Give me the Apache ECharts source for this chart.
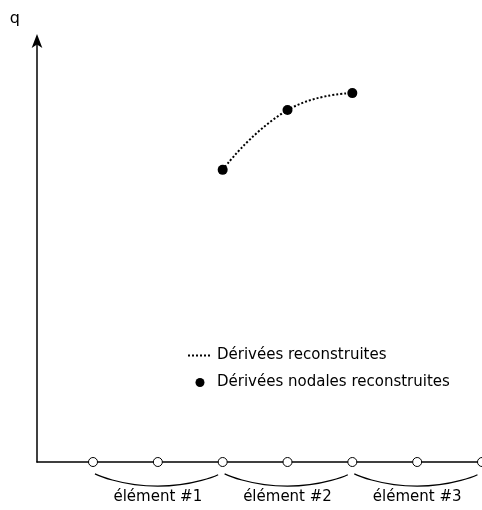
<!DOCTYPE html>
<html><head><meta charset="utf-8">
<script src="https://cdn.jsdelivr.net/npm/echarts@6/dist/echarts.min.js"></script>
<style>html,body{margin:0;padding:0;background:#fff}#c{width:482px;height:510px}</style>
</head><body><div id="c"></div>
<script>
// nodes along the x axis (open circles)
var nodeX = [0, 1, 2, 3, 4, 5, 6];
// reconstructed nodal derivatives
var nodalX = [2, 3, 4];
var nodalQ = [6.89, 8.30, 8.70];
// elements: [startNode, endNode, label]
var elemStart = [0, 2, 4];
var elemEnd = [2, 4, 6];
var elemLabels = ['élément #1', 'élément #2', 'élément #3'];
var legendNames = ['Dérivées reconstruites', 'Dérivées nodales reconstruites'];

var FONT = 'DejaVu Sans';
var FS = 15;
var series = [];
series.push({
  name: legendNames[0], type: 'line', smooth: 0.5, symbol: 'none',
  data: nodalX.map(function (x, i) { return [x, nodalQ[i]]; }),
  itemStyle: { color: '#000' },
  lineStyle: { color: '#000', width: 2, type: [2, 2] }, z: 3
});
series.push({
  name: legendNames[1], type: 'scatter', symbolSize: 10,
  data: nodalX.map(function (x, i) { return [x, nodalQ[i]]; }),
  itemStyle: { color: '#000', opacity: 1 }, z: 4
});
series.push({
  name: 'nodes', type: 'scatter', symbolSize: 9, clip: false,
  data: nodeX.map(function (x) { return [x, 0]; }),
  itemStyle: { color: '#fff', borderColor: '#000', borderWidth: 1, opacity: 1 }, z: 5
});
elemStart.forEach(function (s, i) {
  var e = elemEnd[i], m = (s + e) / 2;
  series.push({
    name: 'brace' + i, type: 'line', smooth: 0.6, symbol: 'none', clip: false,
    silent: true,
    data: [[s + 0.03, -0.28], [m, -0.57], [e - 0.07, -0.30]],
    lineStyle: { color: '#000', width: 1.2 }
  });
});
series.push({
  name: 'elemLabels', type: 'scatter', clip: false, silent: true,
  symbolSize: 1, itemStyle: { color: 'rgba(0,0,0,0)' },
  data: elemStart.map(function (s, i) { return [(s + elemEnd[i]) / 2, -0.57]; }),
  label: { show: true, position: 'bottom', distance: 3, color: '#000', opacity: 1,
    fontFamily: FONT, fontSize: FS,
    formatter: function (p) { return elemLabels[p.dataIndex]; } }
});

var chart = echarts.init(document.getElementById('c'), null, { renderer: 'canvas' });
chart.setOption({
  animation: false,
  backgroundColor: '#fff',
  grid: { left: 37, right: 0, top: 38, bottom: 48 },
  legend: {
    data: [
      { name: legendNames[0], itemStyle: { opacity: 0 } },
      { name: legendNames[1], icon: 'circle' }
    ],
    orient: 'vertical', left: 182, top: 343,
    itemWidth: 24, itemHeight: 9, itemGap: 12,
    textStyle: { fontFamily: FONT, fontSize: FS, color: '#000' }
  },
  xAxis: {
    type: 'value', min: -0.864, max: 6,
    axisLine: { show: true, onZero: false, lineStyle: { color: '#000', width: 1.5 } },
    axisTick: { show: false }, axisLabel: { show: false }, splitLine: { show: false }
  },
  yAxis: {
    type: 'value', min: 0, max: 10,
    name: 'q', nameLocation: 'end', nameGap: 11,
    nameTextStyle: { fontFamily: FONT, fontSize: 16, color: '#000', align: 'right', padding: [0, 17, 0, 0] },
    axisLine: { show: true, onZero: false, symbol: ['none', 'arrow'], symbolSize: [8, 14], symbolOffset: [0, 4],
      lineStyle: { color: '#000', width: 1.5 } },
    axisTick: { show: false }, axisLabel: { show: false }, splitLine: { show: false }
  },
  series: series
});
</script></body></html>
